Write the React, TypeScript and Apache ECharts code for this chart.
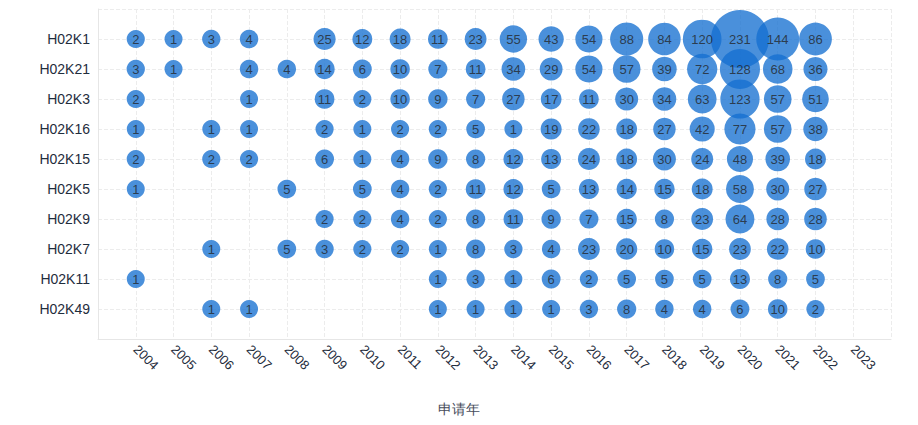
import React, { useEffect, useRef } from "react";
import * as echarts from "echarts";

const years = ["2004","2005","2006","2007","2008","2009","2010","2011","2012","2013","2014","2015","2016","2017","2018","2019","2020","2021","2022","2023"];
const codes = ["H02K1","H02K21","H02K3","H02K16","H02K15","H02K5","H02K9","H02K7","H02K11","H02K49"];

const H02K1 =  [2, 1, 3, 4, null, 25, 12, 18, 11, 23, 55, 43, 54, 88, 84, 120, 231, 144, 86, null];
const H02K21 = [3, 1, null, 4, 4, 14, 6, 10, 7, 11, 34, 29, 54, 57, 39, 72, 128, 68, 36, null];
const H02K3 =  [2, null, null, 1, null, 11, 2, 10, 9, 7, 27, 17, 11, 30, 34, 63, 123, 57, 51, null];
const H02K16 = [1, null, 1, 1, null, 2, 1, 2, 2, 5, 1, 19, 22, 18, 27, 42, 77, 57, 38, null];
const H02K15 = [2, null, 2, 2, null, 6, 1, 4, 9, 8, 12, 13, 24, 18, 30, 24, 48, 39, 18, null];
const H02K5 =  [1, null, null, null, 5, null, 5, 4, 2, 11, 12, 5, 13, 14, 15, 18, 58, 30, 27, null];
const H02K9 =  [null, null, null, null, null, 2, 2, 4, 2, 8, 11, 9, 7, 15, 8, 23, 64, 28, 28, null];
const H02K7 =  [null, null, 1, null, 5, 3, 2, 2, 1, 8, 3, 4, 23, 20, 10, 15, 23, 22, 10, null];
const H02K11 = [1, null, null, null, null, null, null, null, 1, 3, 1, 6, 2, 5, 5, 5, 13, 8, 5, null];
const H02K49 = [null, null, 1, 1, null, null, null, null, 1, 1, 1, 1, 3, 8, 4, 4, 6, 10, 2, null];

const rows: (number | null)[][] = [H02K1, H02K21, H02K3, H02K16, H02K15, H02K5, H02K9, H02K7, H02K11, H02K49];

export default function App() {
  const ref = useRef<HTMLDivElement>(null);
  useEffect(() => {
    if (!ref.current) return;
    const chart = echarts.init(ref.current, null, { renderer: "svg" });
    const data: any[] = [];
    rows.forEach((row, ri) => {
      row.forEach((v, yi) => {
        if (v != null) data.push([years[yi], codes[ri], v]);
      });
    });
    const xCats = ["", ...years, ""];
    const yCats = ["", ...codes, ""];
    chart.setOption({
      animation: false,
      title: {
        text: "申请年",
        left: "center",
        top: 394,
        padding: 0,
        textStyle: { fontSize: 14, fontWeight: "normal", color: "#464c5b" },
      },
      grid: { left: 90, right: 19, top: 1, bottom: 78 },
      xAxis: {
        type: "category",
        data: xCats,
        boundaryGap: false,
        axisLine: { lineStyle: { color: "#e6e6e6" } },
        axisTick: { show: false },
        axisLabel: { interval: 0, rotate: -45, color: "#1f2d3d", fontSize: 13, margin: 8 },
        splitLine: { show: true, interval: 0, lineStyle: { type: "dashed", color: "#ececec" } },
      },
      yAxis: {
        type: "category",
        data: yCats,
        inverse: true,
        boundaryGap: false,
        axisLine: { lineStyle: { color: "#e6e6e6" } },
        axisTick: { show: false },
        axisLabel: { interval: 0, color: "#1f2d3d", fontSize: 14, margin: 8 },
        splitLine: { show: true, interval: 0, lineStyle: { type: "dashed", color: "#ececec" } },
      },
      series: [
        {
          type: "scatter",
          data,
          symbolSize: (val: any) => 18 + (val[2] - 1) * 40 / 230,
          itemStyle: { color: "#146fd0", opacity: 0.77 },
          label: {
            show: true,
            position: "inside",
            formatter: (p: any) => String(p.value[2]),
            color: "#222",
            fontSize: 13,
          },
          emphasis: { disabled: true },
        },
      ],
    });
    return () => chart.dispose();
  }, []);
  return <div ref={ref} style={{ width: 902, height: 409 }} />;
}
